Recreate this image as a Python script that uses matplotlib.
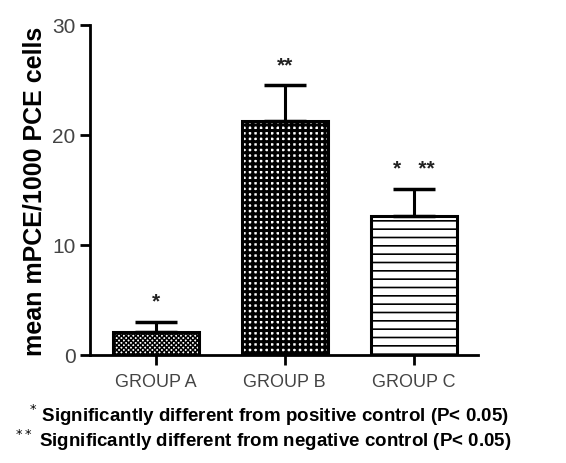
import matplotlib.pyplot as plt
from matplotlib import font_manager

groups = ["GROUP A", "GROUP B", "GROUP C"]
means = [2.1, 21.3, 12.6]
errors = [0.9, 3.2, 2.5]
marks = ["*", "**", "*   **"]
footnotes = [
    r"$^{*}$ Significantly different from positive control (P< 0.05)",
    r"$^{**}$ Significantly different from negative control (P< 0.05)",
]

names = {f.name for f in font_manager.fontManager.ttflist}
narrow = "Liberation Sans Narrow" if "Liberation Sans Narrow" in names else "Liberation Sans"
plt.rcParams["font.family"] = [narrow, "DejaVu Sans"]

fig = plt.figure(figsize=(5.66, 4.64), dpi=100)
ax = fig.add_axes([0.159, 0.233, 0.686, 0.711])

hatches = ["xxxxxxx", "+++", "--"]
hatch_widths = [1.1, 2.2, 1.2]
x = list(range(len(groups)))
for i in x:
    plt.rcParams["hatch.linewidth"] = hatch_widths[i]
    ax.bar(x[i], means[i], width=0.67, color="white", edgecolor="black",
           linewidth=2.2, hatch=hatches[i], zorder=2)
    ax.errorbar(x[i], means[i], yerr=[[0], [errors[i]]], fmt="none",
                ecolor="black", elinewidth=2.2, capsize=15, capthick=2.5, zorder=3)
    ax.annotate(marks[i], (x[i], means[i] + errors[i]), xytext=(0, 8),
                textcoords="offset points", ha="center", va="bottom",
                fontsize=15, fontweight="bold", color="#222222")

ax.set_xlim(-0.51, 2.5)
ax.set_ylim(0, 30)
ax.set_yticks([0, 10, 20, 30])
ax.set_xticks(x)
ax.set_xticklabels(groups, fontsize=13, color="#444444")
for lab in ax.get_yticklabels():
    lab.set_fontsize(15)
    lab.set_color("#444444")
ax.tick_params(axis="both", width=2, length=7, direction="out")
ax.tick_params(axis="x", pad=6)
ax.spines["top"].set_visible(False)
ax.spines["right"].set_visible(False)
ax.spines["left"].set_linewidth(2)
ax.spines["bottom"].set_linewidth(2)
ax.set_ylabel("mean mPCE/1000 PCE cells", fontsize=18, fontweight="bold", labelpad=4)

fig.text(0.475, 0.105, footnotes[0], ha="center", va="center",
         fontsize=13.5, fontweight="bold")
fig.text(0.465, 0.052, footnotes[1], ha="center", va="center",
         fontsize=13.5, fontweight="bold")

fig.savefig("out.png", dpi=100)
